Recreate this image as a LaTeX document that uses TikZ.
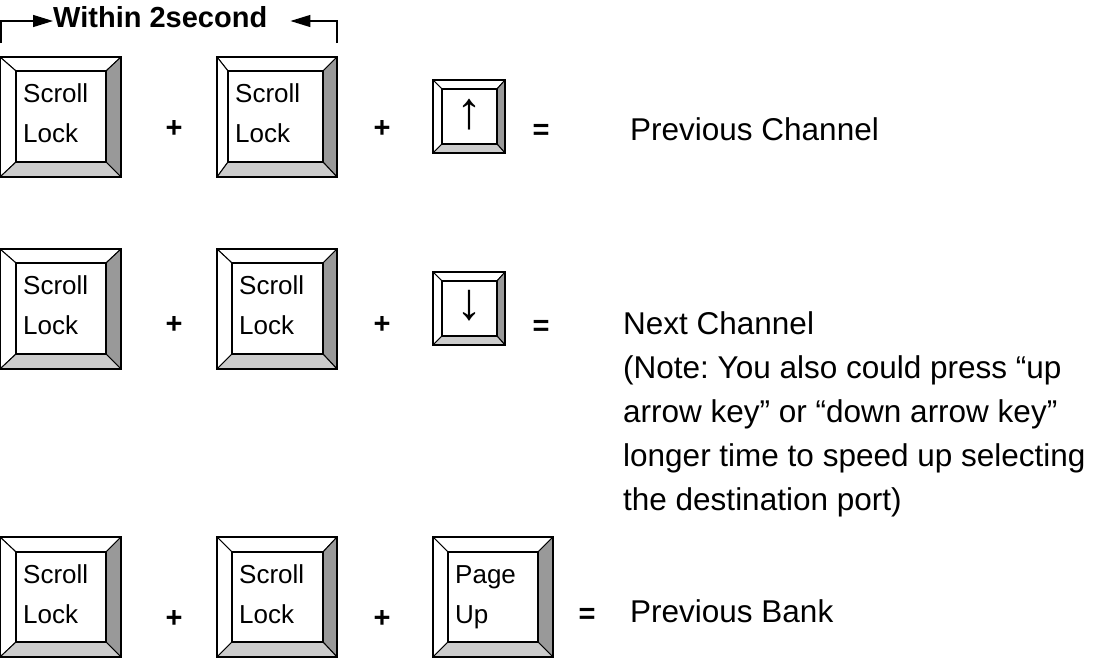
\documentclass[tikz,border=0pt]{standalone}
\usepackage{fontspec}
\setmainfont{Liberation Sans}
\usetikzlibrary{calc,fit,arrows.meta}
\definecolor{bevdark}{HTML}{999999}
\definecolor{bevlight}{HTML}{CCCCCC}
\frenchspacing
\tikzset{
  keyface/.style={draw=black, line width=1.3pt, fill=white, inner sep=0pt},
  bevel/.style={draw=black, line width=1pt, line join=round},
  keylabel/.style={anchor=base west, inner sep=0pt, font=\fontsize{26}{40}\selectfont},
  keyarrow/.style={inner sep=0pt, font=\fontsize{52}{52}\selectfont},
  op/.style={anchor=base, inner sep=0pt, font=\bfseries\fontsize{29}{29}\selectfont},
  result/.style={anchor=base west, inner sep=0pt, font=\fontsize{31.5}{44}\selectfont},
  bracket/.style={line width=1.3pt, -{Triangle[length=20pt,width=12pt]}},
}
\newcommand\keycap[5]{%
  \coordinate (#1oa) at (#2); \coordinate (#1ob) at (#3);
  \coordinate (#1ia) at (#4); \coordinate (#1ib) at (#5);
  \filldraw[bevel, fill=white] (#1oa) -- (#1ob |- #1oa) -- (#1ib |- #1ia) -- (#1ia) -- cycle;
  \filldraw[bevel, fill=white] (#1oa) -- (#1ia) -- (#1ia |- #1ib) -- (#1oa |- #1ob) -- cycle;
  \filldraw[bevel, fill=bevdark] (#1ob |- #1oa) -- (#1ob) -- (#1ib) -- (#1ib |- #1ia) -- cycle;
  \filldraw[bevel, fill=bevlight] (#1oa |- #1ob) -- (#1ob) -- (#1ib) -- (#1ia |- #1ib) -- cycle;
  \node[keyface, fit=(#1ia)(#1ib)] (#1) {};
  \draw[line width=2pt] (#1oa) rectangle (#1ob);
}
\begin{document}
\begin{tikzpicture}[x=1pt, y=-1pt]
\useasboundingbox (0,0) rectangle (1094,657);
% title with bracket
\node[anchor=base west, inner sep=0pt, font=\bfseries\fontsize{29}{29}\selectfont, text height=21.2pt, text depth=9.2pt] (title) at (53,27) {Within 2second};
\coordinate (lb) at (1,43);
\coordinate (rb) at (337,43);
\draw[bracket] (lb) |- (title.west);
\draw[bracket, shorten >=23pt] (rb) |- (title.east);
% row 1
\keycap{ka}{0,57}{121,177}{16,71}{106,162}
\keycap{kb}{217,57}{337,177}{228,71}{323,162}
\keycap{kc}{433,80}{505,153}{442,89}{497,144}
\node[keylabel] (kat) at ($(kaia)+(7,31)$) {\vtop{\hbox{Scroll}\hbox{Lock}}};
\node[keylabel] (kbt) at ($(kbia)+(7,31)$) {\vtop{\hbox{Scroll}\hbox{Lock}}};
\node[keyarrow] (kct) at ($(kc)+(0,-2)$) {↑};
\node[op] (pa) at (174,137) {+};
\node[op] (pb) at (382,137) {+};
\node[op] (ea) at (541,139) {=};
\node[result] (ra) at (630,140) {Previous Channel};
% row 2
\keycap{kd}{0,249}{121,369}{16,263}{106,354}
\keycap{ke}{217,249}{337,369}{232,263}{323,354}
\keycap{kf}{433,272}{505,345}{442,281}{497,336}
\node[keylabel] (kdt) at ($(kdia)+(7,31)$) {\vtop{\hbox{Scroll}\hbox{Lock}}};
\node[keylabel] (ket) at ($(keia)+(7,31)$) {\vtop{\hbox{Scroll}\hbox{Lock}}};
\node[keyarrow] (kft) at ($(kf)+(0,-3)$) {↓};
\node[op] (pc) at (174,333) {+};
\node[op] (pd) at (382,333) {+};
\node[op] (eb) at (541,335) {=};
\node[result] (rbt) at (623,334) {\vtop{\hbox{Next Channel}\hbox{(Note: You also could press “up}\hbox{arrow key” or “down arrow key”}\hbox{longer time to speed up selecting}\hbox{the destination port)}}};
% row 3
\keycap{kg}{0,537}{121,657}{16,552}{106,642}
\keycap{kh}{217,537}{337,657}{232,552}{323,642}
\keycap{ki}{433,537}{553,657}{448,552}{538,642}
\node[keylabel] (kgt) at ($(kgia)+(7,31)$) {\vtop{\hbox{Scroll}\hbox{Lock}}};
\node[keylabel] (kht) at ($(khia)+(7,31)$) {\vtop{\hbox{Scroll}\hbox{Lock}}};
\node[keylabel] (kit) at ($(kiia)+(7,31)$) {\vtop{\hbox{Page}\hbox{Up}}};
\node[op] (pe) at (174,627) {+};
\node[op] (pf) at (382,627) {+};
\node[op] (ec) at (587,623) {=};
\node[result] (rc) at (630,622) {Previous Bank};
\end{tikzpicture}
\end{document}
